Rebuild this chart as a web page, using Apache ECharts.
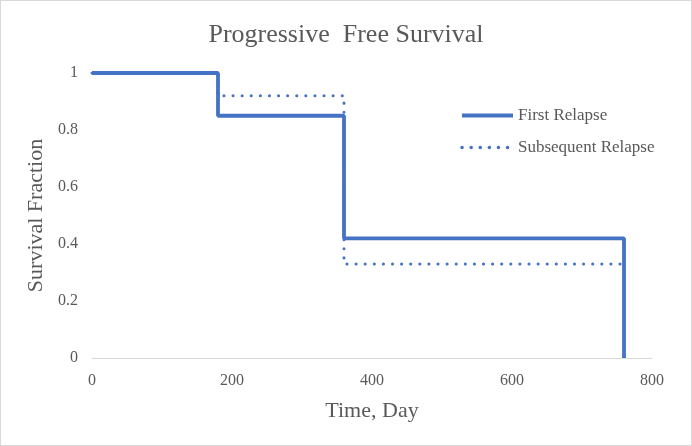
<!DOCTYPE html>
<html>
<head>
<meta charset="utf-8">
<script src="https://cdn.jsdelivr.net/npm/echarts@6/dist/echarts.min.js"></script>
<style>
  html, body { margin: 0; padding: 0; background: #fff; }
  #chart { width: 690px; height: 444px; border: 1px solid #d9d9d9; }
</style>
</head>
<body>
<div id="chart"></div>
<script>
// step points (time in days, survival fraction)
const firstDays = [0, 180, 360, 760, 760];
const firstSurv = [1, 0.85, 0.42, 0.42, 0];
const subseqDays = [0, 180, 360, 760];
const subseqSurv = [1, 0.92, 0.33, 0.33];
const xTicks = [0, 200, 400, 600, 800];
const yTicks = [0, 0.2, 0.4, 0.6, 0.8, 1];

const blue = "#4472c4";
const grey = "#595959";
const serif = "Liberation Serif";

const toPairs = (xs, ys) => xs.map((x, i) => [x, ys[i]]);

const myChart = echarts.init(document.getElementById("chart"));
myChart.setOption({
  animation: false,
  title: {
    text: "Progressive  Free Survival",
    left: "center",
    top: 16,
    textStyle: { fontFamily: serif, fontSize: 26, fontWeight: "normal", color: grey },
  },
  legend: {
    orient: "vertical",
    left: 454,
    top: 101,
    itemWidth: 51,
    itemHeight: 14,
    itemGap: 15,
    textStyle: { fontFamily: serif, fontSize: 17, color: grey },
    itemStyle: { opacity: 0 },
    data: [
      { name: "First Relapse", lineStyle: { width: 4 } },
      { name: "Subsequent Relapse", lineStyle: { width: 3.5 } },
    ],
  },
  grid: { left: 91, right: 39, top: 72, bottom: 87 },
  xAxis: {
    type: "value",
    min: xTicks[0],
    max: xTicks[xTicks.length - 1],
    interval: 200,
    name: "Time, Day",
    nameLocation: "middle",
    nameGap: 42,
    nameTextStyle: { fontFamily: serif, fontSize: 22, color: grey },
    axisLine: { show: true, lineStyle: { color: "#d9d9d9", width: 1 } },
    axisTick: { show: false },
    splitLine: { show: false },
    axisLabel: { fontFamily: serif, fontSize: 16, color: grey, margin: 15 },
  },
  yAxis: {
    type: "value",
    min: yTicks[0],
    max: yTicks[yTicks.length - 1],
    interval: 0.2,
    name: "Survival Fraction",
    nameLocation: "middle",
    nameGap: 45,
    nameTextStyle: { fontFamily: serif, fontSize: 22, color: grey },
    axisLine: { show: false },
    axisTick: { show: false },
    splitLine: { show: false },
    axisLabel: { fontFamily: serif, fontSize: 16, color: grey, margin: 14 },
  },
  series: [
    {
      name: "First Relapse",
      type: "line",
      step: "end",
      symbol: "none",
      z: 3,
      data: toPairs(firstDays, firstSurv),
      lineStyle: { color: blue, width: 3.8 },
      itemStyle: { color: blue },
    },
    {
      name: "Subsequent Relapse",
      type: "line",
      step: "end",
      symbol: "none",
      z: 2,
      data: toPairs(subseqDays, subseqSurv),
      lineStyle: { color: blue, width: 3, type: [0.1, 9], cap: "round" },
      itemStyle: { color: blue },
    },
  ],
});
</script>
</body>
</html>
